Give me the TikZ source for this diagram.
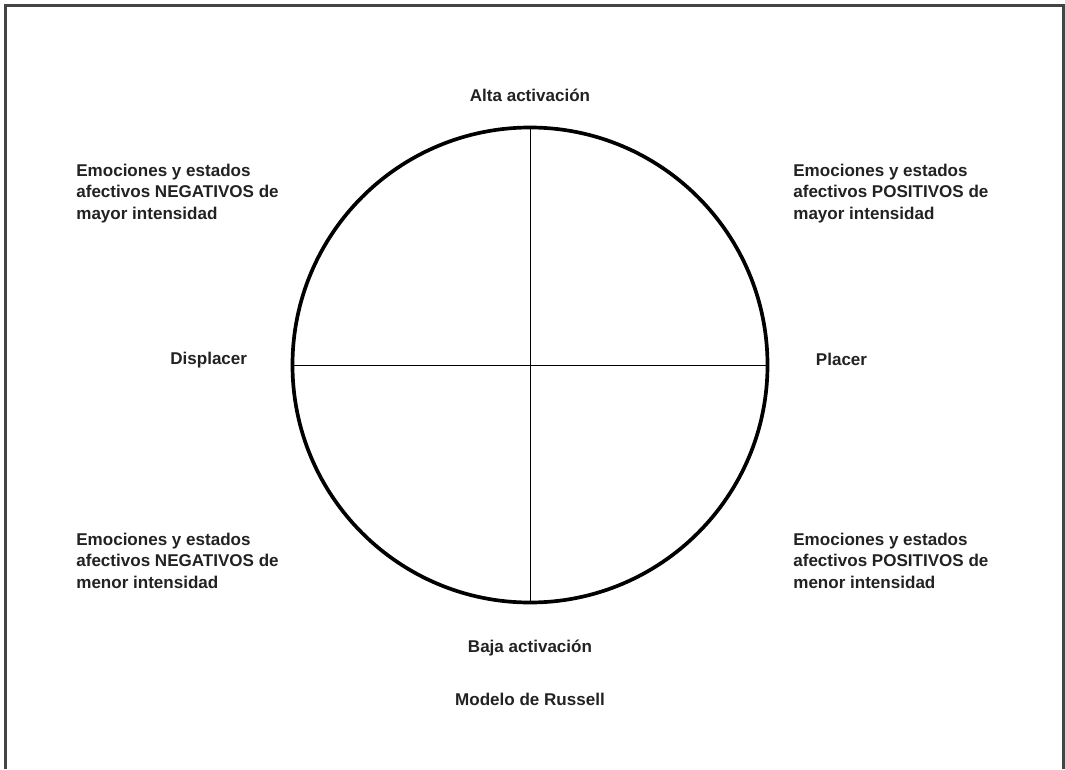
\documentclass[tikz,border=0pt]{standalone}
\usepackage{fontspec}
\setmainfont{Liberation Sans}
\definecolor{mytext}{HTML}{222222}
\definecolor{myframe}{HTML}{444444}
\usepackage{tikz}
\usetikzlibrary{positioning}
\tikzset{
	labelnode/.style={
			text=mytext,
			font=\fontsize{9.7}{12}\selectfont\bfseries,
			inner sep=0pt,
			anchor=base
		},
	blocknode/.style={
			labelnode,
			align=left,
			anchor=base west
		},
	ringline/.style={
			draw=black,
			line width=2.1pt
		},
	axisline/.style={
			draw=black,
			line width=0.55pt
		}
}

\begin{document}
\begin{tikzpicture}[x=0.02cm, y=0.02cm]

  \useasboundingbox (0,0) rectangle (1065,769);
  \draw[myframe, line width=1.4pt] (5.5,0) -- (5.5,763.5) -- (1063.5,763.5) -- (1063.5,0);

  \node[circle, ringline, minimum size=475*0.02cm, inner sep=0pt] (ring) at (530,404) {};
  \draw[axisline] (ring.west) -- (ring.east);
  \draw[axisline] (ring.north) -- (ring.south);

  \node[labelnode] (alta) at (530,667) {Alta activación};
  \node[labelnode] (baja) at (530,117) {Baja activación};
  \node[labelnode] (modelo) at (530,64) {Modelo de Russell};
  \node[labelnode] (dis) at (208.7,405) {Displacer};
  \node[labelnode] (pla) at (841.5,404) {Placer};

  % base anchor sits on the last line
  \node[blocknode] (nm) at (76,550) {Emociones y estados\\afectivos NEGATIVOS de\\mayor intensidad};
  \node[blocknode] (pm) at (793,550) {Emociones y estados\\afectivos POSITIVOS de\\mayor intensidad};
  \node[blocknode] (nn) at (76,181) {Emociones y estados\\afectivos NEGATIVOS de\\menor intensidad};
  \node[blocknode] (pn) at (793,181) {Emociones y estados\\afectivos POSITIVOS de\\menor intensidad};

\end{tikzpicture}
\end{document}
